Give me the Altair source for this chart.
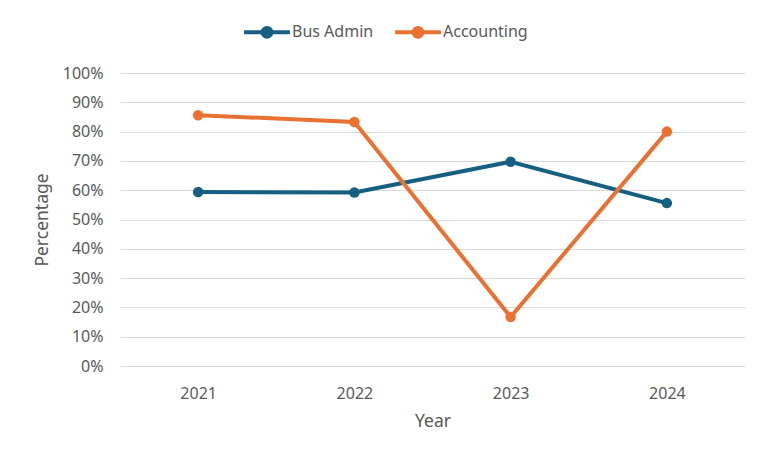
import altair as alt
import pandas as pd

years = ["2021", "2022", "2023", "2024"]
bus_admin = [0.594, 0.592, 0.697, 0.556]
accounting = [0.856, 0.833, 0.167, 0.800]
series_names = ["Bus Admin", "Accounting"]
series_colors = ["#156082", "#E97132"]
y_ticks = [i / 10 for i in range(11)]

rows = []
for name, vals in zip(series_names, [bus_admin, accounting]):
    for yr, v in zip(years, vals):
        rows.append({"Year": yr, "Percentage": v, "Series": name})
df = pd.DataFrame(rows)

FONT = "Noto Sans"
GREY = "#595959"

legend_path = ("M-1,0L1,0 M-0.19,0 A0.19,0.19 0 1,1 0.19,0 "
               "A0.19,0.19 0 1,1 -0.19,0 Z")

color = alt.Color(
    "Series:N",
    scale=alt.Scale(domain=series_names, range=series_colors),
    sort=series_names,
    legend=alt.Legend(
        title=None,
        orient="none",
        direction="horizontal",
        legendX=122,
        legendY=-66,
        symbolType=legend_path,
        symbolSize=2100,
        symbolStrokeWidth=4,
        labelFont=FONT,
        labelFontSize=16,
        labelColor=GREY,
        labelOffset=0,
        columnPadding=13,
    ),
)

x = alt.X(
    "Year:N",
    sort=years,
    scale=alt.Scale(type="point", padding=0.5),
    axis=alt.Axis(
        title="Year",
        labelAngle=0,
        domain=False,
        ticks=False,
        grid=False,
        labelPadding=19,
        titlePadding=11,
        labelFont=FONT,
        labelFontSize=16,
        labelColor=GREY,
        titleFont=FONT,
        titleFontSize=17.5,
        titleFontWeight="normal",
        titleColor=GREY,
    ),
)

y = alt.Y(
    "Percentage:Q",
    scale=alt.Scale(domain=[0, 1]),
    axis=alt.Axis(
        title="Percentage",
        values=y_ticks,
        format=".0%",
        domain=False,
        ticks=False,
        gridColor="#d9d9d9",
        gridWidth=1,
        labelPadding=17,
        titlePadding=11,
        labelFont=FONT,
        labelFontSize=16,
        labelColor=GREY,
        titleFont=FONT,
        titleFontSize=17.5,
        titleFontWeight="normal",
        titleColor=GREY,
    ),
)

base = alt.Chart(df).encode(x=x, y=y, color=color)
lines = base.mark_line(strokeWidth=4)
points = base.mark_point(filled=True, size=110, opacity=1)

chart = (
    alt.layer(lines, points)
    .properties(
        width=625,
        height=293,
        background="white",
        autosize=alt.AutoSizeParams(type="none"),
        padding={"left": 112, "top": 65, "right": 15, "bottom": 80},
    )
    .configure_view(strokeWidth=0)
)

chart.save("out.html", embed_options={"renderer": "svg", "actions": False})
